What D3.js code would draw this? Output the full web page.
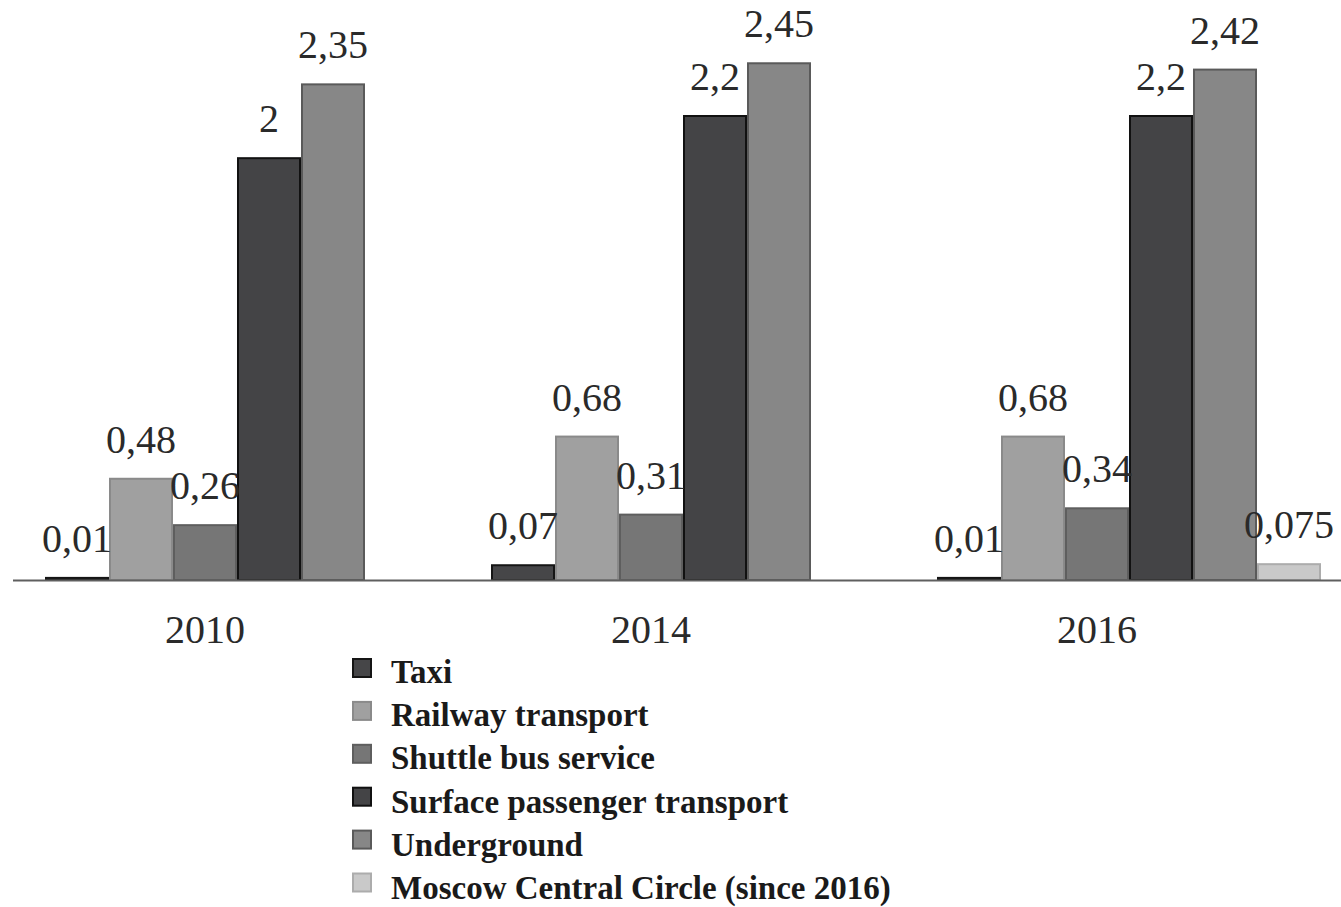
<!DOCTYPE html>
<html>
<head>
<meta charset="utf-8">
<script src="https://cdn.jsdelivr.net/npm/d3@7"></script>
<style>
  body { margin: 0; background: #fff; }
  svg { display: block; }
</style>
</head>
<body>
<div id="chart"></div>
<script>
(function () {

  /***** Data *****/
  var years = ["2010", "2014", "2016"]
  var series = ["Taxi", "Railway transport", "Shuttle bus service",
                "Surface passenger transport", "Underground",
                "Moscow Central Circle (since 2016)"]
  // values per series, in year order (null = no bar)
  var taxi = [0.01, 0.07, 0.01]
  var railway = [0.48, 0.68, 0.68]
  var shuttle = [0.26, 0.31, 0.34]
  var surface = [2, 2.2, 2.2]
  var underground = [2.35, 2.45, 2.42]
  var mcc = [null, null, 0.075]
  var labels = {
    "Taxi": ["0,01", "0,07", "0,01"],
    "Railway transport": ["0,48", "0,68", "0,68"],
    "Shuttle bus service": ["0,26", "0,31", "0,34"],
    "Surface passenger transport": ["2", "2,2", "2,2"],
    "Underground": ["2,35", "2,45", "2,42"],
    "Moscow Central Circle (since 2016)": [null, null, "0,075"]
  }

  var fills = ["#464648", "#a0a0a0", "#767676", "#444446", "#878787", "#c9c9c9"]
  var strokes = ["#151515", "#8a8a8a", "#5e5e5e", "#111111", "#5a5a5a", "#acacac"]

  var values = [taxi, railway, shuttle, surface, underground, mcc]
  var rows = []
  years.forEach(function (yr, i) {
    series.forEach(function (s, j) {
      if (values[j][i] != null) {
        rows.push({ year: yr, series: s, value: values[j][i], label: labels[s][i] })
      }
    })
  })

  /***** Configuration *****/
  var width = 1341
  var height = 907
  var baseline = 580

  var svg = d3.select("#chart")
    .append("svg")
    .attr("width", width)
    .attr("height", height)

  var x0 = d3.scaleBand()
    .domain(years)
    .range([45, 1321])
    .paddingInner(0.139)
    .paddingOuter(0)

  var x1 = d3.scaleBand()
    .domain(series)
    .range([0, x0.bandwidth()])
    .padding(0)

  var y = d3.scaleLinear()
    .domain([0, 2.75])
    .range([baseline, 0])

  var color = d3.scaleOrdinal().domain(series).range(fills)
  var stroke = d3.scaleOrdinal().domain(series).range(strokes)

  // bars
  svg.append("g")
    .selectAll("rect")
    .data(rows)
    .join("rect")
      .attr("x", d => x0(d.year) + x1(d.series) + 1)
      .attr("y", d => y(d.value))
      .attr("width", x1.bandwidth() - 2)
      .attr("height", d => baseline - y(d.value))
      .attr("fill", d => color(d.series))
      .attr("stroke", d => stroke(d.series))
      .attr("stroke-width", 2)

  // axis line
  svg.append("line")
    .attr("x1", 13)
    .attr("x2", width)
    .attr("y1", baseline + 0.5)
    .attr("y2", baseline + 0.5)
    .attr("stroke", "#5f5f5f")
    .attr("stroke-width", 2)

  // value labels
  svg.append("g")
    .selectAll("text")
    .data(rows)
    .join("text")
      .attr("x", d => x0(d.year) + x1(d.series) + x1.bandwidth() / 2)
      .attr("y", d => y(d.value) - 26)
      .attr("text-anchor", "middle")
      .attr("font-family", "'Liberation Serif', 'Times New Roman', serif")
      .attr("font-size", 40)
      .attr("fill", "#2a2a2a")
      .text(d => d.label)

  // year labels, centred under the first five bars
  svg.append("g")
    .selectAll("text")
    .data(years)
    .join("text")
      .attr("x", d => x0(d) + (x1("Taxi") + x1("Underground") + x1.bandwidth()) / 2)
      .attr("y", 643)
      .attr("text-anchor", "middle")
      .attr("font-family", "'Liberation Serif', 'Times New Roman', serif")
      .attr("font-size", 40)
      .attr("fill", "#2a2a2a")
      .text(d => d)

  // legend
  var legend = svg.append("g")

  legend.selectAll("rect")
    .data(series)
    .join("rect")
      .attr("x", 353)
      .attr("y", (d, i) => 659 + i * 42.9)
      .attr("width", 18)
      .attr("height", 18)
      .attr("fill", d => color(d))
      .attr("stroke", d => stroke(d))
      .attr("stroke-width", 2)

  legend.selectAll("text")
    .data(series)
    .join("text")
      .attr("x", 391)
      .attr("y", (d, i) => 683 + i * 43.2)
      .attr("font-family", "'Liberation Serif', 'Times New Roman', serif")
      .attr("font-weight", "bold")
      .attr("font-size", 33)
      .attr("fill", "#1a1a1a")
      .text(d => d)

})()
</script>
</body>
</html>
